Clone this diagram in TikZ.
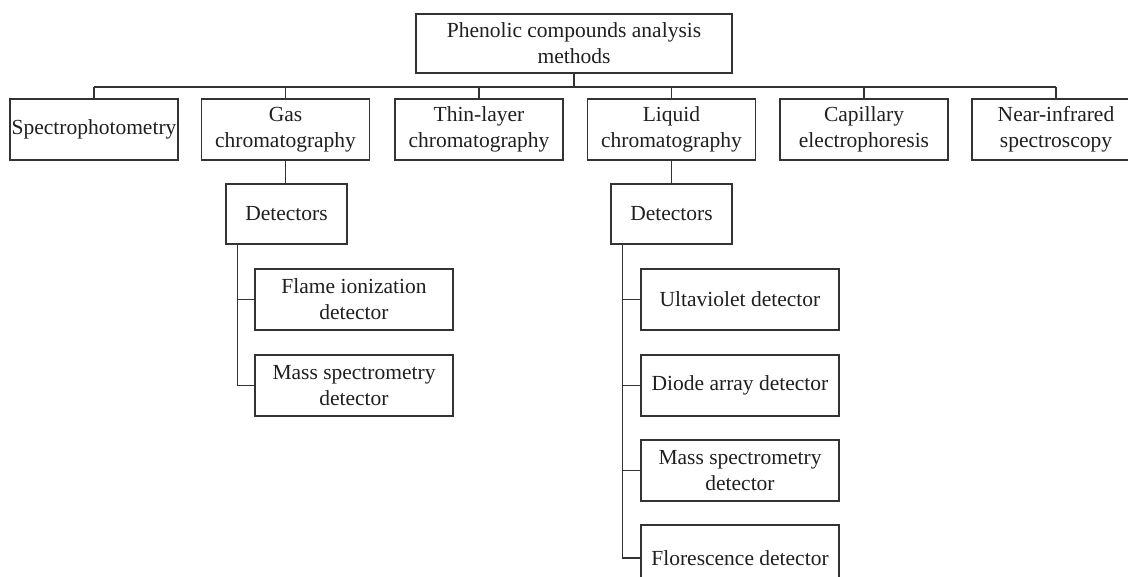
\documentclass[tikz,border=0pt]{standalone}
\usepackage{fontspec}
\setmainfont{Liberation Serif}
\usetikzlibrary{calc}
\begin{document}
\begin{tikzpicture}[x=1pt,y=-1pt,
  every node/.style={text=black!88},
  box/.style={draw=black!80, line width=1.2pt, minimum width=#1, align=center, inner sep=0pt,
    font=\fontsize{21.5}{26}\selectfont},
  box/.default=168pt,
  conn/.style={draw=black!80, line width=1.2pt}]
\useasboundingbox (0,0) rectangle (1128,577);
% root
\node[box=316pt, minimum height=59pt] (root) at (574,43.5) {Phenolic compounds analysis\\methods};
% level 1
\node[box, minimum height=61pt] (spec) at (94,129.5) {Spectrophotometry};
\node[box, minimum height=61pt] (gas) at (285.5,129.5) {Gas\\chromatography};
\node[box, minimum height=61pt] (thin) at (479,129.5) {Thin-layer\\chromatography};
\node[box, minimum height=61pt] (liq) at (671.5,129.5) {Liquid\\chromatography};
\node[box, minimum height=61pt] (cap) at (864,129.5) {Capillary\\electrophoresis};
\node[box, minimum height=61pt] (near) at (1056,129.5) {Near-infrared\\spectroscopy};
% detectors
\node[box=121pt, minimum height=60pt] (gdet) at (286.5,214) {Detectors};
\node[box=121pt, minimum height=60pt] (ldet) at (671.5,214) {Detectors};
% GC sub
\node[box=198pt, minimum height=61pt] (gfid) at (354,299.5) {Flame ionization\\detector};
\node[box=198pt, minimum height=61pt] (gms) at (354,385.5) {Mass spectrometry\\detector};
% LC sub
\node[box=198pt, minimum height=61pt] (luv) at (740,299.5) {Ultaviolet detector};
\node[box=198pt, minimum height=61pt] (ldad) at (740,385.5) {Diode array detector};
\node[box=198pt, minimum height=61pt] (lms) at (740,470.5) {Mass spectrometry\\detector};
\node[box=198pt, minimum height=66pt] (lfl) at (740,558) {Florescence detector};
% connectors level 1
\path[conn] (root.south) -- (root.south |- 0,87);
\foreach \c in {spec,gas,thin,liq,cap,near}{
  \path[conn] (\c.north) -- (\c.north |- 0,87);
}
\path[conn] (spec.north |- 0,87) -- (near.north |- 0,87);
% to detectors
\path[conn] (gas.south) -- (gas.south |- gdet.north);
\path[conn] (liq.south) -- (liq.south |- ldet.north);
% GC branches
\coordinate (gb) at ($(gdet.south west)+(12,0)$);
\path[conn] (gb) |- (gms.west);
\path[conn] (gb) |- (gfid.west);
% LC branches
\coordinate (lb) at ($(ldet.south west)+(12,0)$);
\path[conn] (lb) |- (lfl.west);
\path[conn] (lb) |- (luv.west);
\path[conn] (lb) |- (ldad.west);
\path[conn] (lb) |- (lms.west);
\end{tikzpicture}
\end{document}
